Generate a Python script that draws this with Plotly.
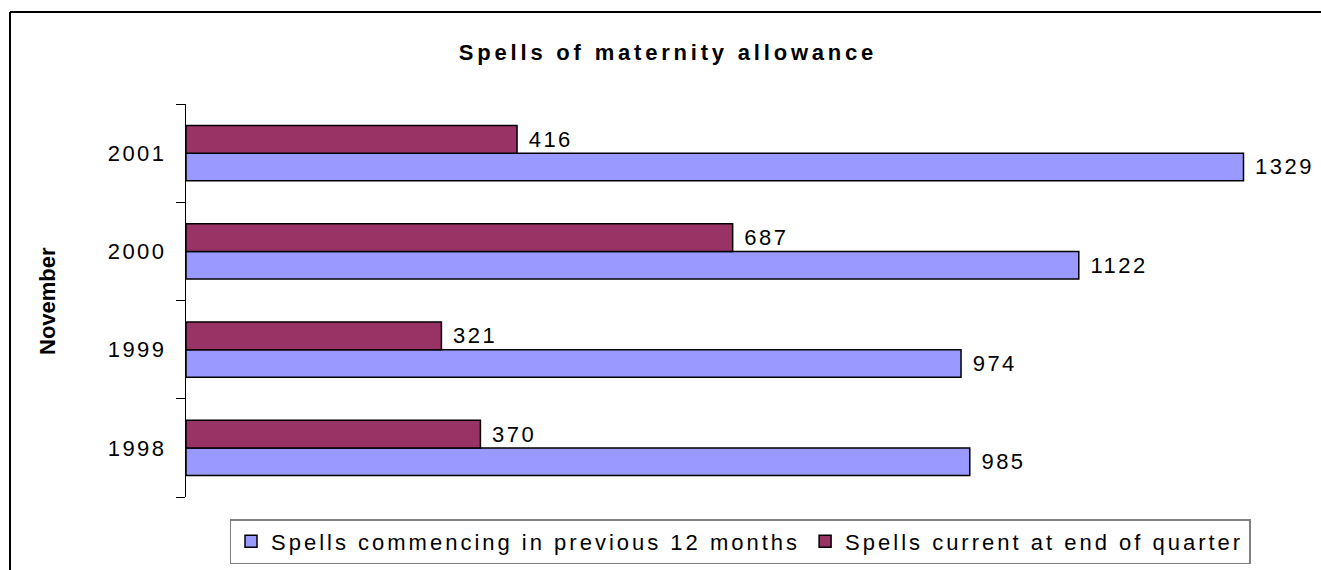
import plotly.graph_objects as go

years = ["1998", "1999", "2000", "2001"]
commencing = [985, 974, 1122, 1329]
current = [370, 321, 687, 416]
series_names = ["Spells commencing in previous 12 months", "Spells current at end of quarter"]
series_colors = ["#9999FF", "#993366"]
title_text = "Spells of maternity allowance"
ytitle = "November"

FONT = "Liberation Sans, Arial, sans-serif"

def spaced(s, px):
    return f'<span style="letter-spacing:{px}px">{s}</span>'

fig = go.Figure()
for name, vals, col in zip(series_names, [commencing, current], series_colors):
    fig.add_trace(go.Bar(
        y=years, x=vals, orientation="h", name=spaced(name, 3.0),
        marker=dict(color=col, line=dict(color="black", width=1.5)),
        texttemplate=spaced("&nbsp;%{x}", 2.5), textposition="outside",
        textfont=dict(family=FONT, size=22, color="black"),
        cliponaxis=False,
    ))

W, H = 1321, 570
L, R, T, B = 186, 21, 104, 73
pw, ph = W - L - R, H - T - B

def px_x(px):  # page px -> paper x
    return (px - L) / pw

def px_y(py):  # page px -> paper y
    return (H - B - py) / ph

fig.update_layout(
    width=W, height=H,
    margin=dict(l=L, r=R, t=T, b=B, autoexpand=False),
    paper_bgcolor="white", plot_bgcolor="white",
    barmode="group", bargap=0.44, bargroupgap=0,
    font=dict(family=FONT, size=22, color="black"),
    title=dict(text="<b>" + spaced(title_text, 3.8) + "</b>",
               x=668 / W, xanchor="center", y=1 - 52 / H, yanchor="middle",
               xref="container", yref="container",
               font=dict(family=FONT, size=22, color="black")),
    xaxis=dict(visible=False, range=[0, 1400]),
    yaxis=dict(type="category", categoryorder="array", categoryarray=years,
               tickvals=years, ticktext=[spaced(y, 2.5) for y in years],
               ticks="outside", ticklen=9, tickcolor="black", tickson="boundaries",
               ticklabelstandoff=14, automargin=False,
               showline=True, linecolor="black", linewidth=1, showgrid=False,
               tickfont=dict(family=FONT, size=22, color="black")),
    legend=dict(orientation="h", x=740 / W, xanchor="center", xref="container",
                y=1 - 519 / H, yanchor="top", yref="container",
                bordercolor="#808080", borderwidth=1.5,
                font=dict(family=FONT, size=22, color="black"),
                itemwidth=30, traceorder="normal"),
    showlegend=True,
)

fig.add_annotation(text="<b>" + ytitle + "</b>", textangle=-90,
                   xref="paper", yref="paper", x=px_x(47), y=px_y(301),
                   xanchor="center", yanchor="middle", showarrow=False,
                   font=dict(family=FONT, size=22, color="black"))

# outer chart frame (left and top edges visible)
fig.add_shape(type="line", xref="paper", yref="paper",
              x0=px_x(10), x1=px_x(10), y0=px_y(600), y1=px_y(12),
              line=dict(color="black", width=2), layer="below")
fig.add_shape(type="line", xref="paper", yref="paper",
              x0=px_x(10), x1=px_x(1400), y0=px_y(12), y1=px_y(12),
              line=dict(color="black", width=2), layer="below")

fig.write_html("out.html", config={"displayModeBar": False},
               post_script="document.body.style.margin='0';document.body.style.overflow='hidden';")
